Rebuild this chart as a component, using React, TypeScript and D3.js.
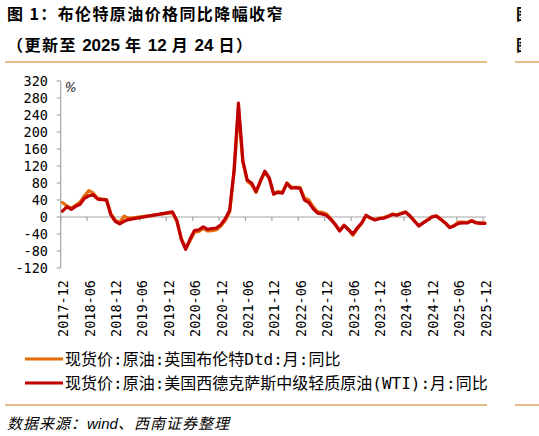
import React from "react";
import * as d3 from "d3";

const tickLabels = ["2017-12","2018-06","2018-12","2019-06","2019-12","2020-06","2020-12","2021-06","2021-12","2022-06","2022-12","2023-06","2023-12","2024-06","2024-12","2025-06","2025-12"];
const yTicks = [-120,-80,-40,0,40,80,120,160,200,240,280,320];

// monthly YoY %, 2017-12 .. 2025-12 (null = no observation)
const wti: (number | null)[] = [
  14,24,18,25,30,44,50,52,42,41,40,5,-10,-16,-10,-6,
  null,null,null,null,null,null,null,null,null,
  12,-8,-52,-76,-52,-32,-30,-23,-29,-27,-26,-18,-4,16,110,268,132,
  87,80,60,85,108,92,54,58,56,79,68,69,67,40,34,19,9,7,4,
  -6,-18,-33,-20,-30,-40,-26,-14,4,-2,-7,-4,
  -3,1,6,4,8,11,2,-10,-21,-14,-7,0,
  2,-6,-14,-25,-21,-15,-14,-14,-9,-14,-15,-15,
];
const brent: (number | null)[] = [
  34,26,20,28,35,50,62,56,44,42,41,8,-8,-13,2,-3,
  null,null,null,null,null,null,null,null,null,
  10,-10,-50,-74,-56,-36,-34,-27,-33,-32,-30,-21,-8,12,105,250,130,
  84,76,58,84,106,90,54,60,58,80,70,70,70,45,40,24,12,11,7,
  -4,-17,-32,-19,-29,-43,-28,-15,3,-3,-6,-3,
  -1,2,7,5,9,12,3,-9,-21,-13,-6,1,
  3,-5,-14,-24,-20,-12,-12,-13,-8,-13,-14,-14,
];

const title1 = "图 1：布伦特原油价格同比降幅收窄";
const legendNames = ["现货价:原油:英国布伦特Dtd:月:同比", "现货价:原油:美国西德克萨斯中级轻质原油(WTI):月:同比"];
const colors = ["#E46C0A", "#C00000"];

const W = 539, H = 436;
const MONO = "'DejaVu Sans Mono', 'Noto Sans CJK SC', monospace";
const CJK = "'Noto Sans CJK SC', 'Noto Sans', sans-serif";
const ARIAL = "'Liberation Sans', Arial, sans-serif";

export default function App() {
  const x = d3.scaleLinear().domain([0, 96]).range([60.7, 483.1]);
  const y = d3.scaleLinear().domain([-120, 320]).range([268, 81]);
  const offset = 0.4;
  const toPts = (arr: (number | null)[]) =>
    arr.map((v, i) => ({ i, v })).filter((d) => d.v !== null) as { i: number; v: number }[];
  const line = d3
    .line<{ i: number; v: number }>()
    .x((d) => x(d.i + offset))
    .y((d) => y(d.v));
  const series = [brent, wti];
  const axisColor = "#A6A6A6";
  const x0 = x(0);
  const xEnd = x(96.6);
  const zeroY = y(0);

  return (
    <svg width={W} height={H} style={{ position: "fixed", left: 0, top: 0, background: "#fff" }}>
      <defs>
        <clipPath id="edge">
          <rect x={0} y={0} width={521} height={H} />
        </clipPath>
      </defs>
      <rect x={0} y={0} width={W} height={H} fill="#fff" />
      {/* Titles */}
      <text x={7} y={20} fontFamily={CJK} fontWeight={700} fontSize={16} letterSpacing={1.4} fill="#000">
        {title1}
      </text>
      <text x={7} y={51} fontFamily={CJK} fontWeight={700} fontSize={16} fill="#000">
        <tspan letterSpacing={1.5}>（更新至 </tspan>
        <tspan fontFamily={ARIAL} fontSize={17}>2025</tspan>
        <tspan letterSpacing={1.5}> 年 </tspan>
        <tspan fontFamily={ARIAL} fontSize={17}>12</tspan>
        <tspan letterSpacing={1.5}> 月 </tspan>
        <tspan fontFamily={ARIAL} fontSize={17}>24</tspan>
        <tspan letterSpacing={1.5}> 日）</tspan>
      </text>
      <g clipPath="url(#edge)">
        <text x={516} y={20} fontFamily={CJK} fontWeight={700} fontSize={16}>图</text>
        <text x={516} y={51} fontFamily={CJK} fontWeight={700} fontSize={16}>图</text>
      </g>
      <line x1={5} x2={487} y1={62} y2={62} stroke="#DFA961" strokeWidth={1.5} />
      <line x1={515} x2={539} y1={62} y2={62} stroke="#DFA961" strokeWidth={1.5} />

      {/* Y axis */}
      <line x1={x0} x2={x0} y1={y(320)} y2={y(-120)} stroke={axisColor} strokeWidth={1.2} />
      {yTicks.map((t) => (
        <g key={t}>
          <line x1={x0 - 4} x2={x0} y1={y(t)} y2={y(t)} stroke={axisColor} strokeWidth={1.2} />
          <text x={48} y={y(t)} textAnchor="end" dominantBaseline="central" fontFamily={MONO} fontSize={13.5} fill="#000">
            {t}
          </text>
        </g>
      ))}
      <text x={65} y={92} fontFamily="'DejaVu Serif', serif" fontStyle="italic" fontSize={12} fill="#000">%</text>

      {/* X axis at zero */}
      <line x1={x0} x2={xEnd} y1={zeroY} y2={zeroY} stroke={axisColor} strokeWidth={1.2} />
      {tickLabels.map((lab, k) => {
        const tx = x(k * 6);
        return (
          <g key={lab}>
            <line x1={tx} x2={tx} y1={zeroY} y2={zeroY + 4} stroke={axisColor} strokeWidth={1.2} />
            <text
              transform={`translate(${tx + 2.5},${280}) rotate(-90)`}
              textAnchor="end"
              dominantBaseline="central"
              fontFamily={MONO}
              fontSize={13.5}
              fill="#000"
            >
              {lab}
            </text>
          </g>
        );
      })}

      {/* Lines */}
      {series.map((s, k) => (
        <path
          key={k}
          d={line(toPts(s)) || ""}
          fill="none"
          stroke={colors[k]}
          strokeWidth={3.2}
          strokeLinejoin="round"
          strokeLinecap="round"
        />
      ))}

      {/* Legend */}
      {legendNames.map((n, k) => (
        <g key={n}>
          <line x1={25} x2={63} y1={359 + k * 24} y2={359 + k * 24} stroke={colors[k]} strokeWidth={3} />
          <text x={65} y={359 + k * 24} dominantBaseline="central" fontFamily={MONO} fontSize={16} fill="#000">
            {n}
          </text>
        </g>
      ))}

      <line x1={5} x2={487} y1={405} y2={405} stroke="#DFA961" strokeWidth={1.5} />
      <line x1={515} x2={539} y1={405} y2={405} stroke="#DFA961" strokeWidth={1.5} />
      <text x={7} y={429} fontFamily={CJK} fontStyle="italic" fontSize={15} letterSpacing={1} fill="#000">
        <tspan>数据来源：</tspan>
        <tspan fontFamily={ARIAL} letterSpacing={0}>wind</tspan>
        <tspan>、西南证券整理</tspan>
      </text>
    </svg>
  );
}
